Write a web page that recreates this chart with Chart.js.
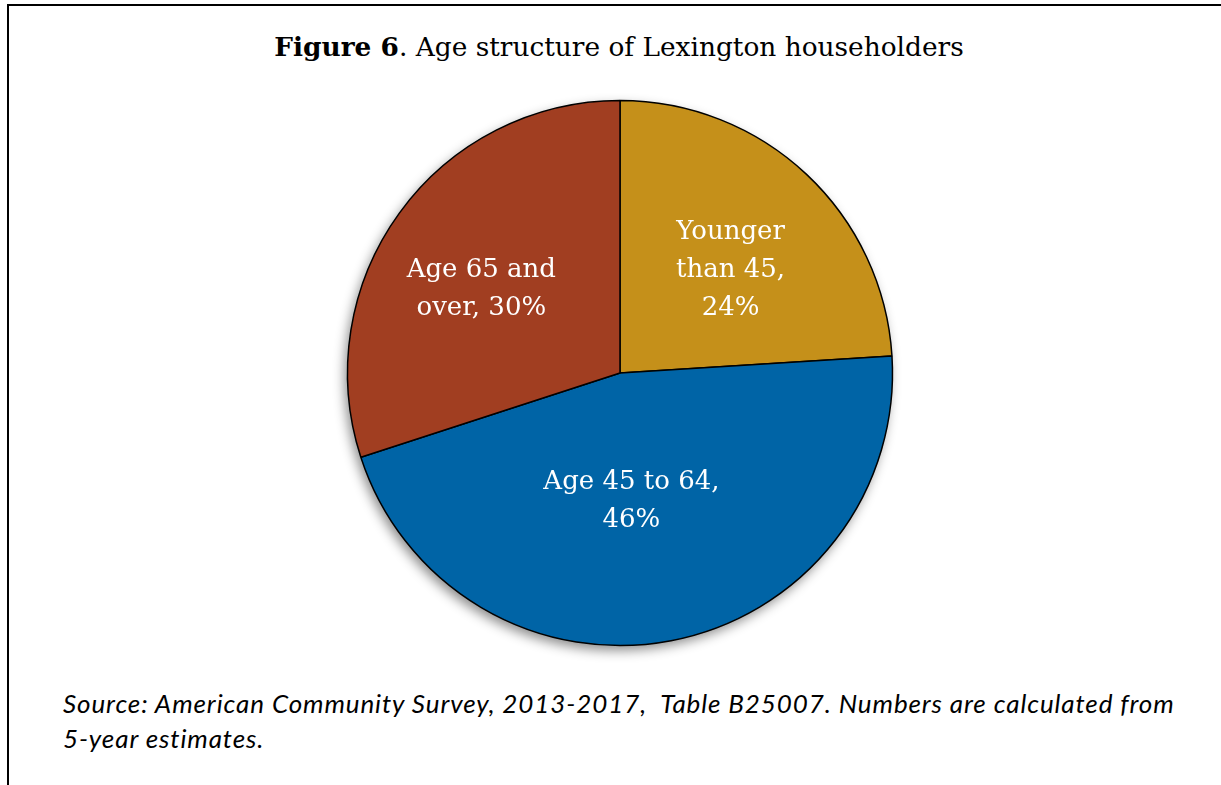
<!DOCTYPE html>
<html>
<head>
<meta charset="utf-8">
<script src="https://cdn.jsdelivr.net/npm/chart.js@4/dist/chart.umd.min.js"></script>
<style>
  html, body { margin: 0; padding: 0; background: #fff; }
  #page { position: relative; width: 1221px; height: 785px; overflow: hidden; background: #fff; }
  #frame { position: absolute; left: 7px; top: 4px; right: -10px; bottom: -10px;
           border-left: 2px solid #000; border-top: 2px solid #000; }
  #title { position: absolute; left: 0; width: 1238px; top: 30px; text-align: center;
           font-family: "DejaVu Serif", serif; font-size: 26.4px; line-height: 34px; color: #000; }
  #chartBox { position: absolute; left: 319.5px; top: 73px; width: 600px; height: 600px; }
  #caption { position: absolute; left: 63px; top: 686px; font-family: Lato, sans-serif;
             font-style: italic; font-size: 26px; letter-spacing: 0.9px; line-height: 35px;
             color: #000; white-space: nowrap; }
</style>
</head>
<body>
<div id="page">
  <div id="frame"></div>
  <div id="title"><b>Figure 6</b>. Age structure of Lexington householders</div>
  <div id="chartBox"><canvas id="agePie" width="600" height="600"></canvas></div>
  <div id="caption">Source: American Community Survey, 2013-2017,&nbsp; Table B25007. Numbers are calculated from<br>5-year estimates.</div>
</div>
<script>
// Householders by age group, share of all households (%)
const categories = ['Younger than 45', 'Age 45 to 64', 'Age 65 and over'];
const shares = [24, 46, 30];
const sliceColors = ['#C5901A', '#0064A6', '#A13E21'];

// how each slice label wraps; {v} is replaced with the share
const labelWraps = [
    ['Younger', 'than 45,', '{v}'],
    ['Age 45 to 64,', '{v}'],
    ['Age 65 and', 'over, {v}']
];

// soft shadow under the whole pie
const pieShadow = {
    id: 'pieShadow',
    beforeDatasetsDraw(chart) {
        const arc = chart.getDatasetMeta(0).data[0];
        if (!arc) return;
        const ctx = chart.ctx;
        ctx.save();
        ctx.shadowColor = 'rgba(0, 0, 0, 0.45)';
        ctx.shadowBlur = 12;
        ctx.shadowOffsetX = -3;
        ctx.shadowOffsetY = 5;
        ctx.fillStyle = '#fff';
        ctx.beginPath();
        ctx.arc(arc.x, arc.y, arc.outerRadius, 0, Math.PI * 2);
        ctx.fill();
        ctx.restore();
    }
};

// white labels inside each slice
const sliceLabels = {
    id: 'sliceLabels',
    afterDatasetsDraw(chart, args, opts) {
        const ctx = chart.ctx;
        const meta = chart.getDatasetMeta(0);
        const values = chart.data.datasets[0].data;
        ctx.save();
        ctx.fillStyle = '#fff';
        ctx.font = opts.font;
        ctx.textAlign = 'center';
        ctx.textBaseline = 'middle';
        meta.data.forEach((arc, i) => {
            const place = opts.placement[i];
            const mid = (arc.startAngle + arc.endAngle) / 2 + place.turn * Math.PI / 180;
            const r = arc.outerRadius * place.radius;
            const cx = arc.x + Math.cos(mid) * r;
            const cy = arc.y + Math.sin(mid) * r;
            const lines = labelWraps[i].map(l => l.replace('{v}', values[i] + '%'));
            const top = cy - (lines.length - 1) * opts.lineHeight / 2;
            lines.forEach((line, k) => ctx.fillText(line, cx, top + k * opts.lineHeight));
        });
        ctx.restore();
    }
};

new Chart(document.getElementById('agePie'), {
    type: 'pie',
    data: {
        labels: categories,
        datasets: [{
            data: shares,
            backgroundColor: sliceColors,
            borderColor: '#000',
            borderWidth: 1.5,
            hoverOffset: 0
        }]
    },
    options: {
        responsive: false,
        animation: false,
        events: [],
        layout: { padding: 26.75 },
        plugins: {
            legend: { display: false },
            tooltip: { enabled: false },
            sliceLabels: {
                font: '26px "DejaVu Serif"',
                lineHeight: 38,
                placement: [
                    { radius: 0.555, turn: 3.8 },
                    { radius: 0.472, turn: 5.7 },
                    { radius: 0.595, turn: -4.8 }
                ]
            }
        }
    },
    plugins: [pieShadow, sliceLabels]
});
</script>
</body>
</html>
